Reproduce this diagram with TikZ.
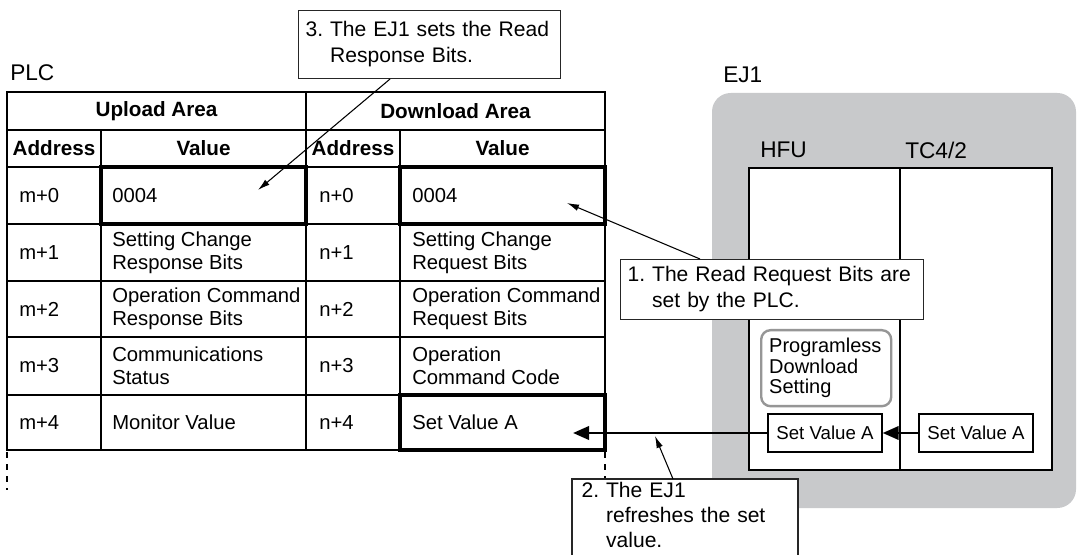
\documentclass[tikz,border=0pt]{standalone}
\usepackage{fontspec}
\setmainfont{Liberation Sans}
\usetikzlibrary{arrows.meta}
\definecolor{ejGray}{RGB}{200,201,203}
\definecolor{progLine}{RGB}{150,150,150}
\newcommand{\hangStep}[1]{\phantom{#1~}}

\begin{document}
\begin{tikzpicture}[x=0.75pt,y=-0.75pt,
  cell/.style={anchor=west, inner sep=0pt, align=left, font=\fontsize{15.2}{17.25}\selectfont},
  head/.style={inner sep=0pt, font=\fontsize{15.5}{18}\selectfont\bfseries},
  title/.style={anchor=west, inner sep=0pt, font=\fontsize{17}{20}\selectfont},
  note/.style={draw=black!85, fill=white, line width=0.8pt, anchor=north west, align=left, inner ysep=0pt, font=\fontsize{15.8}{19.5}\selectfont},
  valbox/.style={draw, line width=1pt, fill=white, minimum width=85.5pt, minimum height=28.5pt, inner sep=0pt, font=\fontsize{14}{16}\selectfont},
  pointer/.style={line width=0.8pt, -{Latex[length=9pt,width=5pt]}},
  refresh/.style={line width=2pt, -{Triangle[length=12pt,width=10pt]}},
]
\useasboundingbox (0,0) rectangle (1077,555);

% EJ1 side
\fill[ejGray, rounded corners=14pt] (712,93) rectangle (1076,508);
\draw[fill=white, line width=1pt] (749,168) rectangle (1052,470);
\draw[line width=1pt] (900,168) -- (900,470);
\node[title] (ej1) at (723,75) {EJ1};
\node[title] (hfu) at (760,150) {HFU};
\node[title] (tc) at (905,150) {TC4/2};
\node[draw=progLine, line width=1.8pt, rounded corners=7pt, anchor=north west, minimum width=97.5pt, minimum height=57pt, text width=85.5pt, inner xsep=6pt, align=left, font=\fontsize{15}{15.4}\selectfont] (prog) at (760,329) {Programless\\Download\\Setting};
\node[valbox] (hfuval) at (825,433) {Set Value A};
\node[valbox] (tcval) at (976,433) {Set Value A};

% PLC table
\node[title] (plc) at (10,73) {PLC};
\draw[line width=1pt] (7,130) -- (605,130) (7,167) -- (605,167) (7,224) -- (605,224) (7,281) -- (605,281) (7,337) -- (605,337) (7,395) -- (605,395);
\draw[line width=1pt] (101,130) -- (101,450) (306,92) -- (306,450) (400,130) -- (400,450);
\draw[line width=1.5pt] (7,92) rectangle (605,450);
\draw[line width=2.6pt] (101,167) rectangle (306,224);
\draw[line width=2.6pt] (400,167) rectangle (605,224);
\draw[line width=2.6pt] (400,395) rectangle (605,450);
\draw[line width=1.5pt, dash pattern=on 4.5pt off 4.5pt] (7,452) -- (7,490);
\draw[line width=1.5pt, dash pattern=on 4.5pt off 4.5pt] (605,452) -- (605,479);

\node[head] (upload) at (156.5,111) {Upload Area};
\node[head] (download) at (455.5,111) {Download Area};
\node[head] (upAddr) at (54,148.5) {Address};
\node[head] (upVal) at (203.5,148.5) {Value};
\node[head] (dnAddr) at (353,148.5) {Address};
\node[head] (dnVal) at (502.5,148.5) {Value};

\node[cell] (m0) at (19,195.5) {m+0};
\node[cell] (u0) at (112,195.5) {0004};
\node[cell] (n0) at (319,195.5) {n+0};
\node[cell] (d0) at (412,195.5) {0004};
\node[cell] (m1) at (19,252.5) {m+1};
\node[cell] (u1) at (112,252.5) {Setting Change\\Response Bits};
\node[cell] (n1) at (319,252.5) {n+1};
\node[cell] (d1) at (412,252.5) {Setting Change\\Request Bits};
\node[cell] (m2) at (19,309) {m+2};
\node[cell] (u2) at (112,309) {Operation Command\\Response Bits};
\node[cell] (n2) at (319,309) {n+2};
\node[cell] (d2) at (412,309) {Operation Command\\Request Bits};
\node[cell] (m3) at (19,366) {m+3};
\node[cell] (u3) at (112,366) {Communications\\Status};
\node[cell] (n3) at (319,366) {n+3};
\node[cell] (d3) at (412,366) {Operation\\Command Code};
\node[cell] (m4) at (19,422.5) {m+4};
\node[cell] (u4) at (112,422.5) {Monitor Value};
\node[cell] (n4) at (319,422.5) {n+4};
\node[cell] (d4) at (412,422.5) {Set Value A};

% refresh path
\coordinate (setA) at (573,433);
\draw[refresh] (tcval.west) -- (hfuval.east);
\draw[refresh] (hfuval.west) -- (setA);

% callouts
\node[note, inner xsep=5.25pt, text width=186pt, minimum height=51pt] (note3) at (298,10) {3.~The EJ1 sets the Read\\\hangStep{3.}Response Bits.};
\node[note, inner xsep=5.25pt, text width=216.75pt, minimum height=45pt] (note1) at (620,259) {1.~The Read Request Bits are\\\hangStep{1.}set by the PLC.};
\coordinate (note2top) at (572,479);
\fill[white] (note2top) rectangle (798,555);
\node[note, draw=none, fill=none, inner xsep=6.75pt, text width=156pt, font=\fontsize{15.8}{18.75}\selectfont] (note2) at (572,482) {2.~The EJ1\\\hangStep{2.}refreshes the set\\\hangStep{2.}value.};
\draw[black!85, line width=0.8pt] (note2top |- 0,555) -- (note2top) -- ([xshift=169.5pt]note2top) -- ([xshift=169.5pt]note2top |- 0,555);

\coordinate (resp0) at (258,190);
\coordinate (req0) at (567,203);
\coordinate (refreshPt) at (655,436);
\draw[pointer] ([xshift=69pt]note3.south west) -- (resp0);
\draw[pointer] ([xshift=60pt]note1.north west) -- (req0);
\draw[pointer] ([xshift=75.75pt]note2top) -- (refreshPt);
\end{tikzpicture}
\end{document}
